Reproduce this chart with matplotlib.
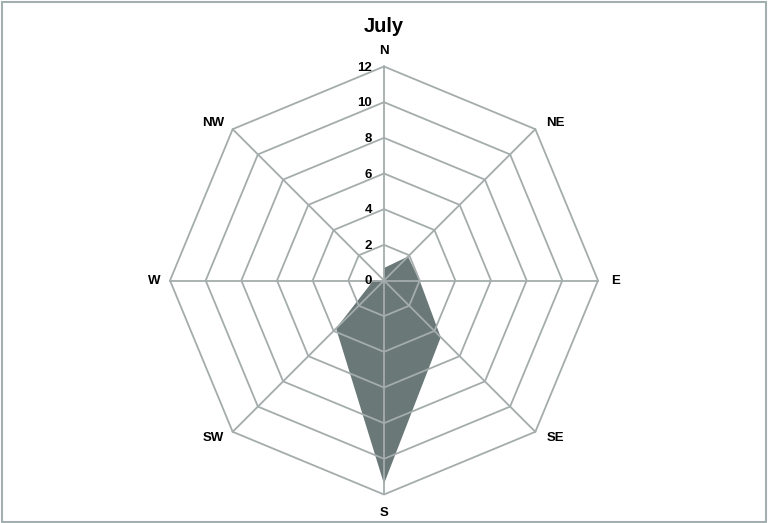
import numpy as np
import matplotlib
matplotlib.use("Agg")
import matplotlib.pyplot as plt
from matplotlib.patches import Rectangle

plt.rcParams['font.family'] = ['Liberation Sans', 'DejaVu Sans']

title = "July"
directions = ["N", "NE", "E", "SE", "S", "SW", "W", "NW"]
values = [0.7, 1.9, 2.0, 4.5, 11.4, 3.8, 0.6, 0.0]
ticks = [0, 2, 4, 6, 8, 10, 12]
rmax = 12

grid_color = "#a4acac"
fill_color = "#6a7878"

W, H = 768, 523
fig = plt.figure(figsize=(W / 100, H / 100), dpi=100)
cx, cy, R = 384, 280.5, 214
ax = fig.add_axes([(cx - R) / W, (H - cy - R) / H, 2 * R / W, 2 * R / H], projection='polar')
ax.set_theta_zero_location('N')
ax.set_theta_direction(-1)
ax.set_ylim(0, rmax)
ax.set_axis_off()

n = len(directions)
angles = np.linspace(0, 2 * np.pi, n, endpoint=False)
closed = np.concatenate([angles, angles[:1]])

# data polygon
vals = np.array(values + values[:1])
ax.fill(closed, vals, color=fill_color, zorder=2, linewidth=0)

# octagonal rings
for t in ticks[1:]:
    ax.plot(closed, [t] * (n + 1), color=grid_color, lw=1.3, zorder=3, clip_on=False)
# spokes
for a in angles:
    ax.plot([a, a], [0, rmax], color=grid_color, lw=1.3, zorder=3, clip_on=False)

# direction labels
offsets = {"N": (0, 16), "NE": (20, 6), "E": (18, 0), "SE": (20, -6),
           "S": (0, -18), "SW": (-19, -6), "W": (-16, 0), "NW": (-19, 6)}
for a, d in zip(angles, directions):
    ax.annotate(d, xy=(a, rmax), xytext=offsets[d], textcoords='offset pixels',
                ha='center', va='center', fontsize=9.5, fontweight='bold',
                color='black', annotation_clip=False)

# radial tick labels
for t in ticks:
    ax.annotate(str(t), xy=(0, t), xytext=(-12, -1), textcoords='offset pixels',
                ha='right', va='center', fontsize=9.5, fontweight='bold',
                color='black', annotation_clip=False, zorder=4)

fig.text(cx / W, 1 - 26 / H, title, ha='center', va='center',
         fontsize=14.5, fontweight='bold')

fig.patches.append(Rectangle((1.5 / W, 1.5 / H), (W - 3.5) / W, (H - 3.5) / H,
                             transform=fig.transFigure, fill=False,
                             edgecolor='#a3b0b0', linewidth=1.5))

fig.savefig("out.png", dpi=100)
